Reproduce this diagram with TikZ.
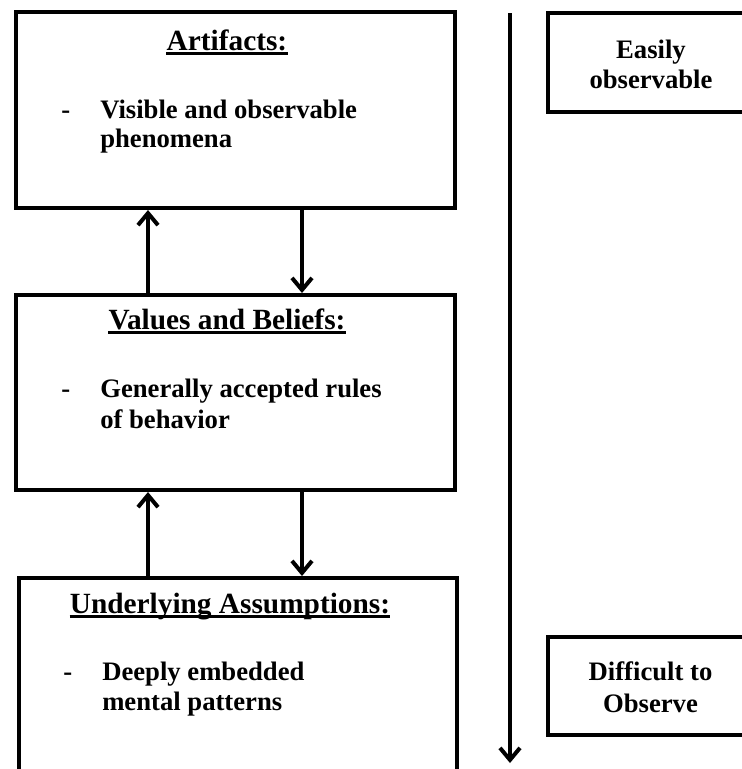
\documentclass[tikz,border=0pt]{standalone}
\usepackage{fontspec}
\setmainfont{Liberation Serif}
\usetikzlibrary{arrows.meta}
\begin{document}
\begin{tikzpicture}[x=0.75pt,y=-0.75pt,
  mainbox/.style={draw=black, line width=3pt, inner sep=0pt, fill=none},
  sidebox/.style={draw=black, line width=2.3pt, inner sep=0pt},
  head/.style={inner sep=0pt, anchor=base, font=\fontsize{22}{26}\selectfont\bfseries},
  body/.style={inner sep=0pt, anchor=base west, font=\fontsize{20}{24}\selectfont\bfseries},
  sidetxt/.style={inner sep=0pt, anchor=base, font=\fontsize{20}{24}\selectfont\bfseries},
  flow/.style={line width=3pt, -{Straight Barb[length=9pt,width=15pt]}},
  uline/.style={line width=2pt}
]
\useasboundingbox (0,0) rectangle (742,769);
\clip (0,0) rectangle (742,769);
% main boxes
\node[mainbox, minimum width=329.25pt, minimum height=147pt] (box1) at (235.5,110) {};
\node[mainbox, minimum width=329.25pt, minimum height=146.25pt] (box2) at (235.5,392.5) {};
\node[mainbox, minimum width=328.5pt, minimum height=166.5pt] (box3) at (238,689) {};
% side boxes
\node[sidebox, minimum width=189pt, minimum height=74.25pt] (easy) at (674,62.5) {};
\node[sidebox, minimum width=189pt, minimum height=73.5pt] (hard) at (674,686) {};
% headings
\node[head] (h1) at (227,50) {Artifacts:};
\draw[uline] ([yshift=-2.5pt]h1.base west) -- ([yshift=-2.5pt]h1.base east);
\node[head] (h2) at (227,329) {Values and Beliefs:};
\draw[uline] ([yshift=-2.5pt]h2.base west) -- ([yshift=-2.5pt]h2.base east);
\node[head] (h3) at (230,613) {Underlying Assumptions:};
\draw[uline] ([yshift=-2.5pt]h3.base west) -- ([yshift=-2.5pt]h3.base east);
% bullets
\node[body] (d1) at (61,118) {-};
\node[body] (t1a) at (100,118) {Visible and observable};
\node[body] (t1b) at (100,147) {phenomena};
\node[body] (d2) at (61,397) {-};
\node[body] (t2a) at (100,397) {Generally accepted rules};
\node[body] (t2b) at (100,428) {of behavior};
\node[body] (d3) at (63,680) {-};
\node[body] (t3a) at (102,680) {Deeply embedded};
\node[body] (t3b) at (102,710) {mental patterns};
% side texts
\node[sidetxt] (e1) at (651,58) {Easily};
\node[sidetxt] (e2) at (651,88) {observable};
\node[sidetxt] (f1) at (650.5,680) {Difficult to};
\node[sidetxt] (f2) at (650.5,712) {Observe};
% arrow columns
\coordinate (cu) at (148,0);
\coordinate (cd) at (302,0);
\draw[flow] (box2.north -| cu) -- (box1.south -| cu);
\draw[flow] (box1.south -| cd) -- (box2.north -| cd);
\draw[flow] (box3.north -| cu) -- (box2.south -| cu);
\draw[flow] (box2.south -| cd) -- (box3.north -| cd);
% vertical scale arrow
\coordinate (vtop) at (510,13);
\coordinate (vbot) at (510,763);
\draw[flow] (vtop) -- (vbot);
\end{tikzpicture}
\end{document}
